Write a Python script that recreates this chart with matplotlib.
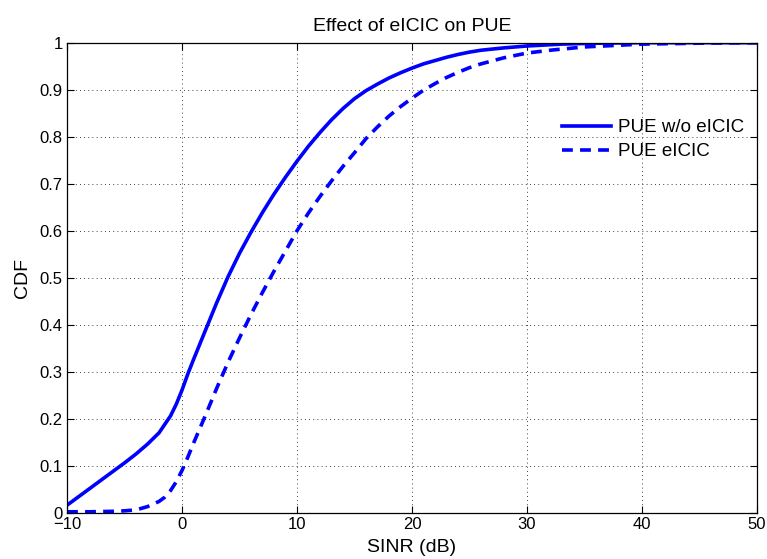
import matplotlib
matplotlib.use("Agg")
import matplotlib.pyplot as plt

plt.rcParams['font.family'] = ['Liberation Sans', 'DejaVu Sans']

# SINR (dB) sample points and CDF values
x_wo = [-10, -8, -6, -5, -4, -3, -2, -1, -0.5, 0, 0.5, 1, 1.5, 2, 3, 4, 5, 6, 7,
        8, 9, 10, 11, 12, 13, 14, 15, 16, 17, 18, 19, 20, 21, 22, 23, 24, 25,
        26, 28, 30, 33, 36, 40, 50]
cdf_wo = [0.016, 0.052, 0.088, 0.106, 0.125, 0.146, 0.170, 0.206, 0.231, 0.261,
          0.295, 0.326, 0.356, 0.386, 0.446, 0.502, 0.552, 0.597, 0.639, 0.678,
          0.714, 0.748, 0.780, 0.809, 0.836, 0.860, 0.881, 0.898, 0.912, 0.925,
          0.936, 0.946, 0.955, 0.962, 0.969, 0.975, 0.980, 0.984, 0.989, 0.993,
          0.997, 0.999, 1.0, 1.0]

x_e = [-10, -8, -6, -5, -4, -3, -2, -1.5, -1, -0.5, 0, 0.5, 1, 2, 3, 4, 5, 6, 7,
       8, 9, 10, 11, 12, 13, 14, 15, 16, 17, 18, 19, 20, 21, 22, 23, 24, 25, 26,
       28, 30, 32, 35, 40, 45, 50]
cdf_e = [0.002, 0.002, 0.003, 0.004, 0.006, 0.013, 0.024, 0.033, 0.047, 0.066,
         0.090, 0.118, 0.148, 0.205, 0.264, 0.320, 0.372, 0.422, 0.469, 0.514,
         0.557, 0.600, 0.638, 0.673, 0.706, 0.737, 0.766, 0.796, 0.821, 0.844,
         0.864, 0.882, 0.899, 0.913, 0.926, 0.937, 0.947, 0.955, 0.968, 0.978,
         0.984, 0.991, 0.997, 0.999, 1.0]

xticks = [-10, 0, 10, 20, 30, 40, 50]
yticks = [0, 0.1, 0.2, 0.3, 0.4, 0.5, 0.6, 0.7, 0.8, 0.9, 1]
ytick_labels = ['0', '0.1', '0.2', '0.3', '0.4', '0.5', '0.6', '0.7', '0.8', '0.9', '1']

fig = plt.figure(figsize=(7.67, 5.59), dpi=100)
ax = fig.add_axes([0.0874, 0.0828, 0.8996, 0.8408])

ax.plot(x_wo, cdf_wo, color='#0000ff', lw=2.6, label='PUE w/o eICIC',
        solid_joinstyle='round')
ax.plot(x_e, cdf_e, color='#0000ff', lw=2.6, linestyle=(0, (3.0, 2.0)),
        label='PUE eICIC')

ax.set_xlim(-10, 50)
ax.set_ylim(0, 1)
ax.set_xticks(xticks)
ax.set_yticks(yticks)
ax.set_yticklabels(ytick_labels)
ax.tick_params(direction='in', top=True, right=True, labelsize=12, length=5,
               width=0.8, pad=3)
ax.grid(True, linestyle=(0, (1, 4)), color='black', linewidth=0.6)
for s in ax.spines.values():
    s.set_linewidth(0.9)

ax.set_title('Effect of eICIC on PUE', fontsize=14, pad=8.5)
ax.set_xlabel('SINR (dB)', fontsize=14, labelpad=5)
ax.set_ylabel('CDF', fontsize=14, labelpad=6)

ax.legend(loc='upper right', bbox_to_anchor=(0.992, 0.853), frameon=False,
          fontsize=13.5, handlelength=2.6, handletextpad=0.37, labelspacing=0.36,
          borderaxespad=0.0, borderpad=0.4)

fig.savefig('out.png', dpi=100)
